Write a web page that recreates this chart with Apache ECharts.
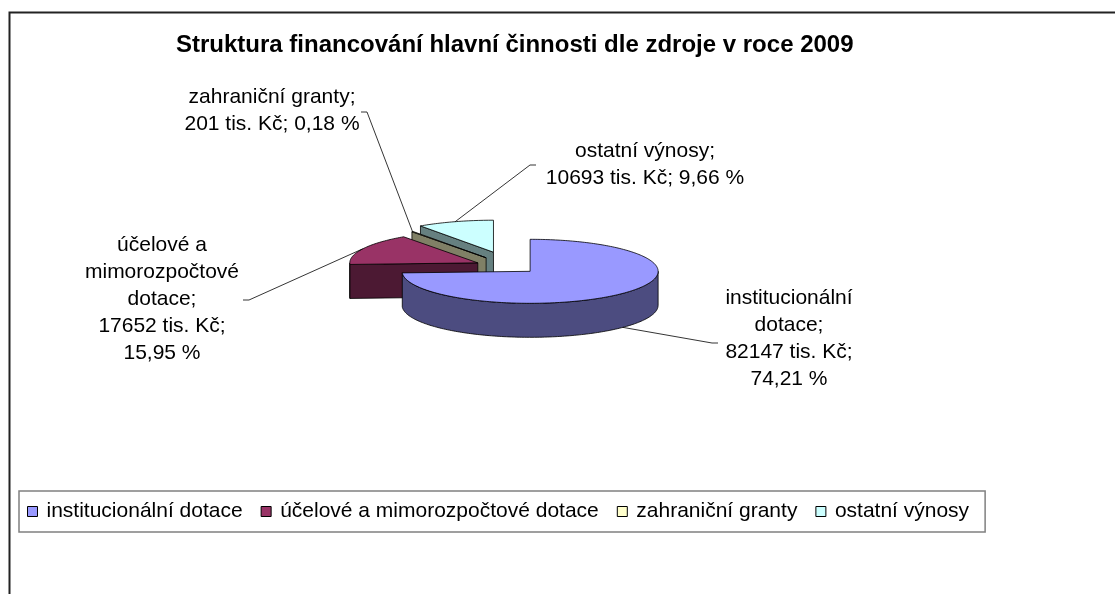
<!DOCTYPE html>
<html>
<head>
<meta charset="utf-8">
<script src="https://cdn.jsdelivr.net/npm/echarts@6/dist/echarts.min.js"></script>
<style>
  html, body { margin: 0; padding: 0; background: #fff; }
  #chart { width: 1115px; height: 594px; }
</style>
</head>
<body>
<div id="chart"></div>
<script>
var title = 'Struktura financování hlavní činnosti dle zdroje v roce 2009'
var categories = ['institucionální dotace', 'účelové a mimorozpočtové dotace', 'zahraniční granty', 'ostatní výnosy']
var values = [82147, 17652, 201, 10693]
var unit = 'tis. Kč'

var topColors = ['#9999FF', '#993366', '#FFFFCC', '#CCFFFF']
var sideColors = ['#4C4C80', '#4C1933', '#808066', '#668080']
var FONT = '"Liberation Sans", Arial, sans-serif'

// 3d pie look (pixels)
var pie = { cx: 512, cy: 267, rx: 128, ry: 32, depth: 34 }
var explode = [25, 38, 45, 62]
// label block: centre, half width + y where the leader meets it, words per line
var labelBox = [
  { x: 789, y: 339, hw: 71, ly: 343, lines: [1, 1, 3, 2] },
  { x: 162, y: 299, hw: 81, ly: 300, lines: [2, 1, 1, 3, 2] },
  { x: 272, y: 111, hw: 89, ly: 112, lines: [2, 5] },
  { x: 645, y: 165, hw: 109, ly: 165, lines: [2, 5] }
]

var total = values.reduce(function (a, b) { return a + b }, 0)
var angles = []
var acc = 0
values.forEach(function (v) {
  var a0 = acc / total * Math.PI * 2
  acc += v
  angles.push([a0, acc / total * Math.PI * 2])
})

function labelText(i) {
  var pct = (values[i] / total * 100).toFixed(2).replace('.', ',')
  var words = (categories[i] + '; ' + values[i] + ' ' + unit + '; ' + pct + ' %').split(' ')
  var out = []
  var k = 0
  labelBox[i].lines.forEach(function (n) {
    out.push(words.slice(k, k + n).join(' '))
    k += n
  })
  return out.join('\n')
}

function renderSlice(i) {
  return function (params, api) {
    var a0 = angles[i][0]
    var a1 = angles[i][1]
    var mid = (a0 + a1) / 2
    var vx = pie.cx + explode[i] * Math.sin(mid)
    var vy = pie.cy - explode[i] * Math.cos(mid) * pie.ry / pie.rx
    var d = pie.depth
    function pt(a, dy) {
      return [vx + pie.rx * Math.sin(a), vy - pie.ry * Math.cos(a) + (dy || 0)]
    }
    function arc(from, to, dy) {
      var n = Math.max(2, Math.ceil(Math.abs(to - from) / 0.02))
      var out = []
      for (var k = 0; k <= n; k++) out.push(pt(from + (to - from) * k / n, dy))
      return out
    }
    var base = Math.round(vy * 10)
    var edge = { stroke: '#000', lineWidth: 0.8, lineJoin: 'round' }
    var children = []

    // outer wall, only the front half shows
    var s = Math.max(a0, Math.PI / 2)
    var e = Math.min(a1, Math.PI * 1.5)
    if (e > s) {
      children.push({
        type: 'polygon', z2: base,
        shape: { points: arc(s, e, 0).concat(arc(e, s, d)) },
        style: Object.assign({ fill: sideColors[i] }, edge)
      })
    }
    // cut faces turned to the viewer
    [[a0, a0 - Math.PI / 2], [a1, a1 + Math.PI / 2]].forEach(function (f) {
      if (Math.cos(f[1]) < -1e-6) {
        var p = pt(f[0])
        children.push({
          type: 'polygon', z2: base,
          shape: { points: [[vx, vy], p, [p[0], p[1] + d], [vx, vy + d]] },
          style: Object.assign({ fill: sideColors[i] }, edge)
        })
      }
    })
    // top face
    children.push({
      type: 'polygon', z2: base + 1,
      shape: { points: [[vx, vy]].concat(arc(a0, a1, 0)) },
      style: Object.assign({ fill: topColors[i] }, edge)
    })

    // leader + label
    var lb = labelBox[i]
    var from = Math.cos(mid) < 0 ? pt(mid, d) : pt(mid)
    var dir = lb.x > from[0] ? -1 : 1
    var ax = lb.x + dir * lb.hw
    children.push({
      type: 'polyline', z2: 90000,
      shape: { points: [from, [ax + dir * 6, lb.ly], [ax, lb.ly]] },
      style: { stroke: '#000', lineWidth: 0.8, fill: null }
    })
    children.push({
      type: 'text', z2: 90001,
      style: {
        text: labelText(i), x: lb.x, y: lb.y,
        align: 'center', verticalAlign: 'middle',
        font: '21px ' + FONT, lineHeight: 27, fill: '#000'
      }
    })
    return { type: 'group', children: children }
  }
}

var chart = echarts.init(document.getElementById('chart'))
chart.setOption({
  animation: false,
  title: {
    text: title,
    left: 171,
    top: 28,
    textStyle: { fontFamily: FONT, fontSize: 24, fontWeight: 'bold', color: '#000' }
  },
  legend: {
    data: categories,
    left: 19,
    top: 491,
    orient: 'horizontal',
    padding: [10, 16, 10, 8],
    borderColor: '#808080',
    borderWidth: 1.5,
    icon: 'rect',
    itemWidth: 10,
    itemHeight: 10,
    itemGap: 18,
    selectedMode: false,
    itemStyle: { borderColor: '#000', borderWidth: 1 },
    textStyle: { fontFamily: FONT, fontSize: 21, color: '#000', padding: [0, 0, 0, 4] }
  },
  graphic: [{
    type: 'rect',
    left: 7,
    top: 10,
    shape: { width: 1200, height: 700 },
    style: { fill: null, stroke: '#222', lineWidth: 2 },
    silent: true
  }],
  series: categories.map(function (name, i) {
    return {
      type: 'custom',
      name: name,
      coordinateSystem: 'none',
      itemStyle: { color: topColors[i] },
      renderItem: renderSlice(i),
      data: [[values[i]]]
    }
  })
})
</script>
</body>
</html>
